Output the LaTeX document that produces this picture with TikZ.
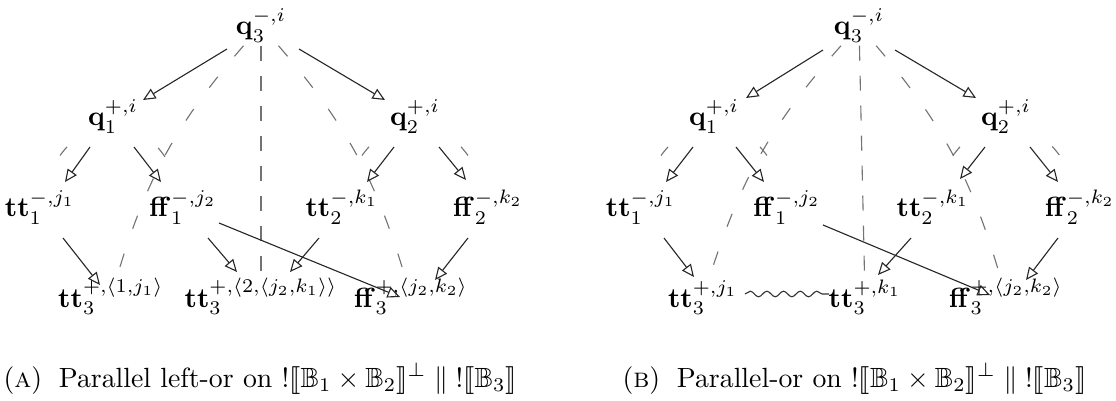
\documentclass[tikz,border=0pt]{standalone}
\usepackage{amssymb}
\usepackage{stmaryrd}
\usetikzlibrary{arrows.meta,decorations.pathmorphing}

\begin{document}
\begin{tikzpicture}[x=0.36pt,y=-0.36pt,
  ev/.style={anchor=base,inner sep=1pt},
  cause/.style={draw=black!85,line width=0.4pt,-{Triangle[open,length=4.5pt,width=4pt]}},
  justif/.style={draw=black!55,line width=0.4pt,dash pattern=on 5pt off 9.5pt},
  justifv/.style={draw=black!55,line width=0.4pt,dash pattern=on 5.4pt off 5.4pt},
  justshort/.style={draw=black!55,line width=0.4pt,dash pattern=on 4pt off 80pt,dash phase=64pt},
  conflict/.style={draw=black!80,line width=0.4pt,decorate,
    decoration={snake,amplitude=1pt,segment length=6pt}},
  subcap/.style={anchor=base west,inner sep=0pt}]

\useasboundingbox (0,0) rectangle (1116,401);

% ---------- (a) parallel left-or ----------
\node[ev] (q3L)  at (261,35)  {$\mathbf{q}_3^{-,i}$};
\node[ev] (q1L)  at (113,126) {$\mathbf{q}_1^{+,i}$};
\node[ev] (q2L)  at (415,126) {$\mathbf{q}_2^{+,i}$};
\node[ev] (tt1L) at (40,217)  {$\mathbf{tt}_1^{-,j_1}$};
\node[ev] (ff1L) at (183,217) {$\mathbf{ff}_1^{-,j_2}$};
\node[ev] (tt2L) at (342,217) {$\mathbf{tt}_2^{-,k_1}$};
\node[ev] (ff2L) at (488,217) {$\mathbf{ff}_2^{-,k_2}$};
\node[ev] (tt3aL) at (111,307) {$\mathbf{tt}_3^{+,\langle 1,j_1\rangle}$};
\node[ev] (tt3bL) at (261,307) {$\mathbf{tt}_3^{+,\langle 2,\langle j_2,k_1\rangle\rangle}$};
\node[ev] (ff3L) at (411,307) {$\mathbf{ff}_3^{+,\langle j_2,k_2\rangle}$};

% justification pointers
\draw[justshort] (q1L.center) to[bend right=30] (tt1L.center);
\draw[justshort] (q1L.center) to[bend left=30] (ff1L.center);
\draw[justshort] (q2L.center) to[bend right=30] (tt2L.center);
\draw[justshort] (q2L.center) to[bend left=30] (ff2L.center);
\draw[justif] (q3L) to[bend right=12] (tt3aL);
\draw[justifv] (q3L) -- (tt3bL);
\draw[justif] (q3L) to[bend left=12] (ff3L);

% causality
\draw[cause] ([shift={(-34,14)}]q3L.base) -- ([shift={(30,-26)}]q1L.base);
\draw[cause] ([shift={(38,14)}]q3L.base) -- ([shift={(-30,-26)}]q2L.base);
\draw[cause] ([shift={(-23,21)}]q1L.base) -- ([shift={(25,-35)}]tt1L.base);
\draw[cause] ([shift={(21,21)}]q1L.base) -- ([shift={(-22,-35)}]ff1L.base);
\draw[cause] ([shift={(-21,21)}]q2L.base) -- ([shift={(25,-35)}]tt2L.base);
\draw[cause] ([shift={(24,21)}]q2L.base) -- ([shift={(-22,-37)}]ff2L.base);
\draw[cause] ([shift={(23,21)}]tt1L.base) -- ([shift={(-11,-22)}]tt3aL.base);
\draw[cause] ([shift={(25,21)}]ff1L.base) -- ([shift={(-24,-35)}]tt3bL.base);
\draw[cause] ([shift={(36,6)}]ff1L.base) -- ([shift={(-11,-10)}]ff3L.base);
\draw[cause] ([shift={(-23,21)}]tt2L.base) -- ([shift={(29,-35)}]tt3bL.base);
\draw[cause] ([shift={(-20,21)}]ff2L.base) -- ([shift={(24,-27)}]ff3L.base);

\node[subcap] (capA) at (3,387)
  {(\textsc{a})\hspace{0.6em}Parallel left-or on
   $!\llbracket\mathbb{B}_1\times\mathbb{B}_2\rrbracket^{\perp}\parallel
    {!}\llbracket\mathbb{B}_3\rrbracket$};

% ---------- (b) parallel-or ----------
\node[ev] (q3R)  at (859,35)   {$\mathbf{q}_3^{-,i}$};
\node[ev] (q1R)  at (714,126)  {$\mathbf{q}_1^{+,i}$};
\node[ev] (q2R)  at (1006,126) {$\mathbf{q}_2^{+,i}$};
\node[ev] (tt1R) at (641,217)  {$\mathbf{tt}_1^{-,j_1}$};
\node[ev] (ff1R) at (787,217)  {$\mathbf{ff}_1^{-,j_2}$};
\node[ev] (tt2R) at (933,217)  {$\mathbf{tt}_2^{-,k_1}$};
\node[ev] (ff2R) at (1080,217) {$\mathbf{ff}_2^{-,k_2}$};
\node[ev] (tt3aR) at (703,307) {$\mathbf{tt}_3^{+,j_1}$};
\node[ev] (tt3bR) at (865,307) {$\mathbf{tt}_3^{+,k_1}$};
\node[ev] (ff3R) at (1006,307) {$\mathbf{ff}_3^{+,\langle j_2,k_2\rangle}$};

\draw[justshort] (q1R.center) to[bend right=30] (tt1R.center);
\draw[justshort] (q1R.center) to[bend left=30] (ff1R.center);
\draw[justshort] (q2R.center) to[bend right=30] (tt2R.center);
\draw[justshort] (q2R.center) to[bend left=30] (ff2R.center);
\draw[justif] (q3R) to[bend right=12] (tt3aR);
\draw[justifv] (q3R) -- (tt3bR);
\draw[justif] (q3R) to[bend left=12] (ff3R);

\draw[cause] ([shift={(-36,15)}]q3R.base) -- ([shift={(32,-28)}]q1R.base);
\draw[cause] ([shift={(36,15)}]q3R.base) -- ([shift={(-30,-28)}]q2R.base);
\draw[cause] ([shift={(-21,21)}]q1R.base) -- ([shift={(25,-35)}]tt1R.base);
\draw[cause] ([shift={(22,21)}]q1R.base) -- ([shift={(-23,-35)}]ff1R.base);
\draw[cause] ([shift={(-21,21)}]q2R.base) -- ([shift={(27,-38)}]tt2R.base);
\draw[cause] ([shift={(24,21)}]q2R.base) -- ([shift={(-22,-35)}]ff2R.base);
\draw[cause] ([shift={(23,21)}]tt1R.base) -- ([shift={(-9,-30)}]tt3aR.base);
\draw[cause] ([shift={(36,8)}]ff1R.base) -- ([shift={(-16,-12)}]ff3R.base);
\draw[cause] ([shift={(-22,21)}]tt2R.base) -- ([shift={(13,-32)}]tt3bR.base);
\draw[cause] ([shift={(-22,21)}]ff2R.base) -- ([shift={(20,-27)}]ff3R.base);

% conflict between the two answers
\draw[conflict] ([shift={(42,-13)}]tt3aR.base) -- ([shift={(-36,-13)}]tt3bR.base);

\node[subcap] (capB) at (622,387)
  {(\textsc{b})\hspace{0.6em}Parallel-or on
   $!\llbracket\mathbb{B}_1\times\mathbb{B}_2\rrbracket^{\perp}\parallel
    {!}\llbracket\mathbb{B}_3\rrbracket$};
\end{tikzpicture}
\end{document}
